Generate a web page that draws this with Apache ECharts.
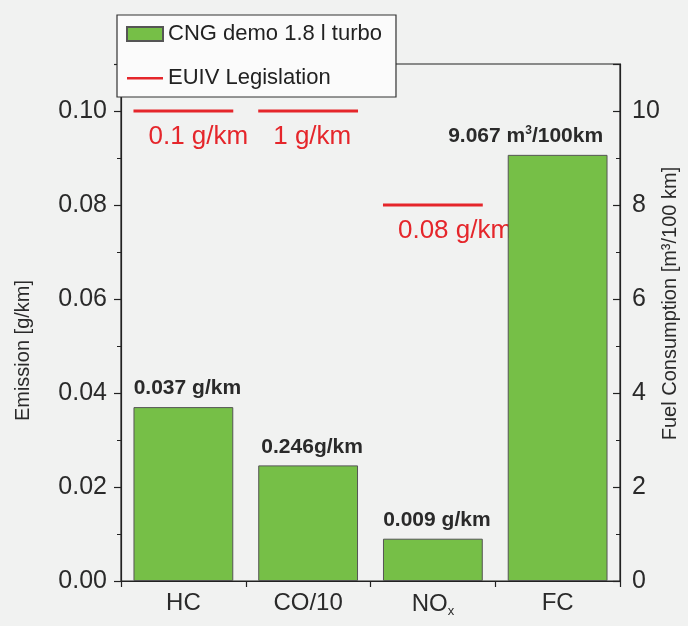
<!DOCTYPE html>
<html>
<head>
<meta charset="utf-8">
<script src="https://cdn.jsdelivr.net/npm/echarts@6/dist/echarts.min.js"></script>
<style>
html,body{margin:0;padding:0;background:#f1f2f1;}
#chart{width:688px;height:626px;}
</style>
</head>
<body>
<div id="chart"></div>
<script>
// ---- data ----
const categories = ['HC', 'CO/10', 'NOx', 'FC'];
const emissionValues = [0.037, 0.0246, 0.009, '-'];        // g/km (left axis)
const emissionLabels = ['0.037 g/km', '0.246g/km', '0.009 g/km', ''];
const fuelValues = ['-', '-', '-', 9.067];                   // m3/100km (right axis)
const fuelLabel = '9.067 m{sup|3}/100km';
const legislationCats = [0, 1, 2];
const legislationValues = [0.1, 0.1, 0.08];
const legislationLabels = ['0.1 g/km', '1 g/km', '0.08 g/km'];
const leftTicks = [0, 0.02, 0.04, 0.06, 0.08, 0.10];
const rightTicks = [0, 2, 4, 6, 8, 10];

const FONT = "'Liberation Sans', Arial, sans-serif";
const GREEN = '#76bf47';
const RED = '#e5262b';
const SERIES_NAME = 'CNG demo 1.8 l turbo';

const chart = echarts.init(document.getElementById('chart'), null, {renderer: 'canvas'});

const legData = legislationCats.map((c, i) => [c, legislationValues[i], legislationLabels[i]]);

const option = {
  backgroundColor: '#f1f2f1',
  animation: false,
  textStyle: {fontFamily: FONT},
  grid: {
    left: 121, right: 68, top: 64, bottom: 45,
    outerBoundsMode: 'none', containLabel: false,
    show: true, borderColor: '#222', borderWidth: 1.2, backgroundColor: 'transparent'
  },
  legend: {
    orient: 'vertical',
    left: 117, top: 15,
    padding: [8, 14, 8, 9],
    itemGap: 22,
    itemWidth: 36, itemHeight: 14,
    backgroundColor: '#fbfbfb',
    borderColor: '#333', borderWidth: 1.2,
    textStyle: {fontSize: 22, color: '#222', fontFamily: FONT},
    data: [
      {name: SERIES_NAME, icon: 'rect'},
      {name: 'EUIV Legislation', icon: 'path://M0,0 M0,6 L36,6 L36,8.5 L0,8.5 Z M36,14', itemStyle: {color: RED}}
    ]
  },
  xAxis: {
    type: 'category',
    data: categories,
    boundaryGap: true,
    axisLine: {lineStyle: {color: '#222', width: 1.2}},
    axisTick: {show: true, length: 6, lineStyle: {color: '#222', width: 1.2}},
    axisLabel: {
      interval: 0,
      fontSize: 24, color: '#2a2a2a', margin: 10, fontFamily: FONT,
      formatter: v => v === 'NOx' ? 'NO{sub|x}' : v,
      rich: {sub: {fontSize: 13, color: '#2a2a2a', padding: [14, 0, 0, 0], fontFamily: FONT}}
    },
    splitLine: {show: false}
  },
  yAxis: [
    {
      type: 'value', min: 0, max: 0.11, interval: 0.02,
      name: 'Emission [g/km]', nameLocation: 'middle', nameGap: 88, nameRotate: 90,
      nameMoveOverlap: false,
      nameTextStyle: {fontSize: 20, color: '#2a2a2a', fontFamily: FONT, padding: [0, 56, 0, 0]},
      axisLine: {show: true, lineStyle: {color: '#222', width: 1.2}},
      axisTick: {show: true, length: 7, lineStyle: {color: '#222', width: 1.2}},
      minorTick: {show: true, splitNumber: 2, length: 4, lineStyle: {color: '#222', width: 1}},
      axisLabel: {
        fontSize: 25, color: '#2a2a2a', margin: 14, fontFamily: FONT, showMaxLabel: false,
        formatter: v => leftTicks.some(t => Math.abs(t - v) < 1e-9) ? v.toFixed(2) : ''
      },
      splitLine: {show: false}
    },
    {
      type: 'value', min: 0, max: 11, interval: 2, position: 'right',
      name: 'Fuel Consumption [m³/100 km]', nameLocation: 'middle', nameGap: 40, nameRotate: 90,
      nameMoveOverlap: false,
      nameTextStyle: {fontSize: 20, color: '#2a2a2a', fontFamily: FONT, padding: [0, 0, 0, 38]},
      axisLine: {show: true, lineStyle: {color: '#222', width: 1.2}},
      axisTick: {show: true, inside: true, length: 7, lineStyle: {color: '#222', width: 1.2}},
      minorTick: {show: true, splitNumber: 2, length: 4, lineStyle: {color: '#222', width: 1}},
      axisLabel: {
        fontSize: 25, color: '#2a2a2a', margin: 12, fontFamily: FONT, showMaxLabel: false,
        formatter: v => rightTicks.indexOf(v) >= 0 ? String(v) : ''
      },
      splitLine: {show: false}
    }
  ],
  series: [
    {
      name: 'EUIV Legislation',
      type: 'custom',
      yAxisIndex: 0,
      z: 1,
      data: legData,
      encode: {x: 0, y: 1},
      itemStyle: {color: RED},
      renderItem: function (params, api) {
        const p = api.coord([api.value(0), api.value(1)]);
        const bw = api.size([1, 0])[0];
        const half = bw * 0.4;
        return {
          type: 'group',
          children: [
            {type: 'line', shape: {x1: p[0] - half, y1: p[1], x2: p[0] + half, y2: p[1]},
             style: {stroke: RED, lineWidth: 3}},
            {type: 'text', x: p[0] - half + 15, y: p[1] + 26,
             style: {text: legislationLabels[params.dataIndex], fill: RED, fontSize: 26,
                     fontFamily: FONT, align: 'left', verticalAlign: 'middle'}}
          ]
        };
      }
    },
    {
      name: SERIES_NAME,
      type: 'bar',
      yAxisIndex: 0,
      z: 3,
      data: emissionValues,
      barWidth: '80%',
      barGap: '-100%',
      itemStyle: {color: GREEN, borderColor: '#555', borderWidth: 1},
      label: {
        show: true, position: 'top', distance: 8, offset: [4, 0],
        fontSize: 21, fontWeight: 'bold', color: '#2a2a2a', fontFamily: FONT,
        formatter: p => emissionLabels[p.dataIndex]
      }
    },
    {
      name: SERIES_NAME,
      type: 'bar',
      yAxisIndex: 1,
      z: 3,
      data: fuelValues,
      barWidth: '80%',
      barGap: '-100%',
      itemStyle: {color: GREEN, borderColor: '#555', borderWidth: 1},
      label: {
        show: true, position: 'top', distance: 8, offset: [-32, 0],
        fontSize: 21, fontWeight: 'bold', color: '#2a2a2a', fontFamily: FONT,
        formatter: () => fuelLabel,
        rich: {sup: {fontSize: 12, fontWeight: 'bold', color: '#2a2a2a', padding: [0, 0, 10, 0], fontFamily: FONT}}
      }
    }
  ]
};
chart.setOption(option);
</script>
</body>
</html>
